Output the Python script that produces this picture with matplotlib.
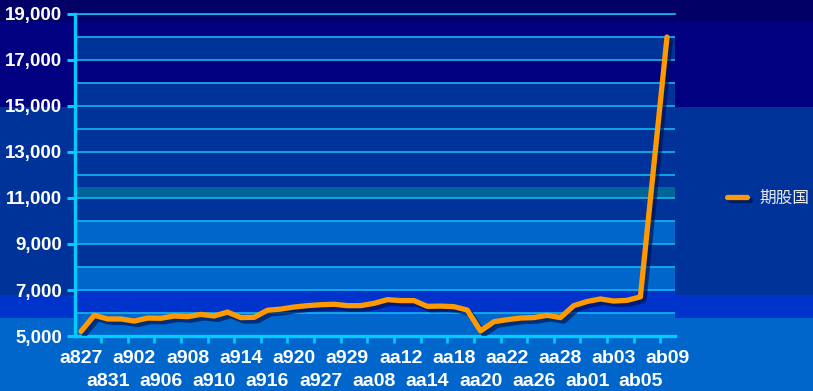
import numpy as np
import matplotlib
matplotlib.use("Agg")
import matplotlib.pyplot as plt
import matplotlib.patheffects as pe
from matplotlib.patches import Rectangle
from matplotlib.ticker import FixedLocator, MultipleLocator, FuncFormatter

# data
values = [5200, 5900, 5740, 5740, 5650, 5780, 5770, 5870, 5840, 5940,
          5870, 6040, 5800, 5810, 6120, 6170, 6260, 6320, 6360, 6380,
          6320, 6320, 6420, 6580, 6540, 6540, 6290, 6300, 6275, 6130,
          5220, 5620, 5710, 5780, 5800, 5900, 5800, 6320, 6500, 6610,
          6520, 6550, 6700, 12350, 18000]
tick_labels = ["a827", "a831", "a902", "a906", "a908", "a910", "a914", "a916",
               "a920", "a927", "a929", "aa08", "aa12", "aa14", "aa18", "aa20",
               "aa22", "aa26", "aa28", "ab01", "ab03", "ab05", "ab09"]
series_name = "期股国"
y_ticks = [5000, 7000, 9000, 11000, 13000, 15000, 17000, 19000]

CYAN = "#00ccff"
GRID = "#12b8ee"

fig = plt.figure(figsize=(8.13, 3.91), dpi=100)
fig.patch.set_facecolor("#003399")

# banded figure background (figure fractions)
for y0, y1, c in [(0.9437, 1.0, "#000066"), (0.7263, 0.9437, "#000080"),
                  (0.1867, 0.2455, "#0033cc"), (0.0, 0.1867, "#0066cc")]:
    fig.add_artist(Rectangle((0, y0), 1, y1 - y0, transform=fig.transFigure,
                             facecolor=c, edgecolor="none", zorder=-10))

ax = fig.add_axes([75 / 813, 55 / 391, 600 / 813, 322 / 391])
ax.set_facecolor("none")

# plot-area bands
for y0, y1, c in [(17000, 18000, "#003399"), (15000, 16000, "#003399"),
                  (11000, 11480, "#006699"), (9000, 10000, "#0066cc"),
                  (7000, 8000, "#0066cc"), (6000, 7000, "#0033cc"),
                  (5000, 6000, "#0066cc")]:
    ax.axhspan(y0, y1, color=c, lw=0, zorder=0)

x = np.arange(len(values))
ax.plot(x, values, color="#ff9900", lw=3.8, solid_capstyle="round",
        solid_joinstyle="round", label=series_name, zorder=5,
        path_effects=[pe.SimpleLineShadow(offset=(2.5, -2.5), shadow_color="#001050", alpha=0.65),
                      pe.Normal()])

ax.set_xlim(-0.45, 44.6)
ax.set_ylim(5000, 19000)

# y axis
ax.yaxis.set_major_locator(FixedLocator(y_ticks))
ax.yaxis.set_minor_locator(MultipleLocator(1000))
ax.yaxis.set_major_formatter(FuncFormatter(lambda v, p: f"{int(v):,}"))
ax.yaxis.grid(True, which="both", color=GRID, lw=1.2, zorder=1)
ax.set_axisbelow(True)

# x axis: labels every 2nd point, staggered in two rows; tick marks between
label_pos = x[::2]
ax.xaxis.set_major_locator(FixedLocator(label_pos[::2]))
ax.set_xticklabels(tick_labels[::2])
ax.xaxis.set_minor_locator(FixedLocator(label_pos[:-1] + 1.5))

sec = ax.secondary_xaxis("bottom")
sec.set_xticks(label_pos[1::2])
sec.set_xticklabels(tick_labels[1::2])
sec.spines["bottom"].set_visible(False)
sec.tick_params(axis="x", length=0, pad=26.5, colors="white", labelsize=14)

ax.tick_params(axis="x", which="major", length=0, pad=10, colors="white",
               labelsize=14)
ax.tick_params(axis="x", which="minor", length=5, width=1.9, color=CYAN,
               direction="out")
ax.tick_params(axis="y", which="major", length=6, width=2.2, color=CYAN,
               pad=3.5, labelcolor="white", labelsize=13.5)
ax.tick_params(axis="y", which="minor", length=0)
for lab in ax.get_xticklabels() + ax.get_yticklabels() + sec.get_xticklabels():
    lab.set_fontfamily("Liberation Sans")
    lab.set_fontweight("bold")

ax.spines["right"].set_visible(False)
ax.spines["top"].set_color(GRID)
ax.spines["top"].set_linewidth(1.2)
for side in ("left", "bottom"):
    ax.spines[side].set_color(CYAN)
    ax.spines[side].set_linewidth(2.4)

leg = ax.legend(loc="center left", bbox_to_anchor=(727 / 813, 1 - 198 / 391),
                bbox_transform=fig.transFigure, frameon=False, borderpad=0,
                borderaxespad=0, handlelength=1.2, handletextpad=0.75,
                prop={"family": ["Noto Sans CJK SC", "DejaVu Sans"], "size": 12})
for t in leg.get_texts():
    t.set_color("#e8e8e8")

fig.savefig("out.png", dpi=100, facecolor=fig.get_facecolor())
